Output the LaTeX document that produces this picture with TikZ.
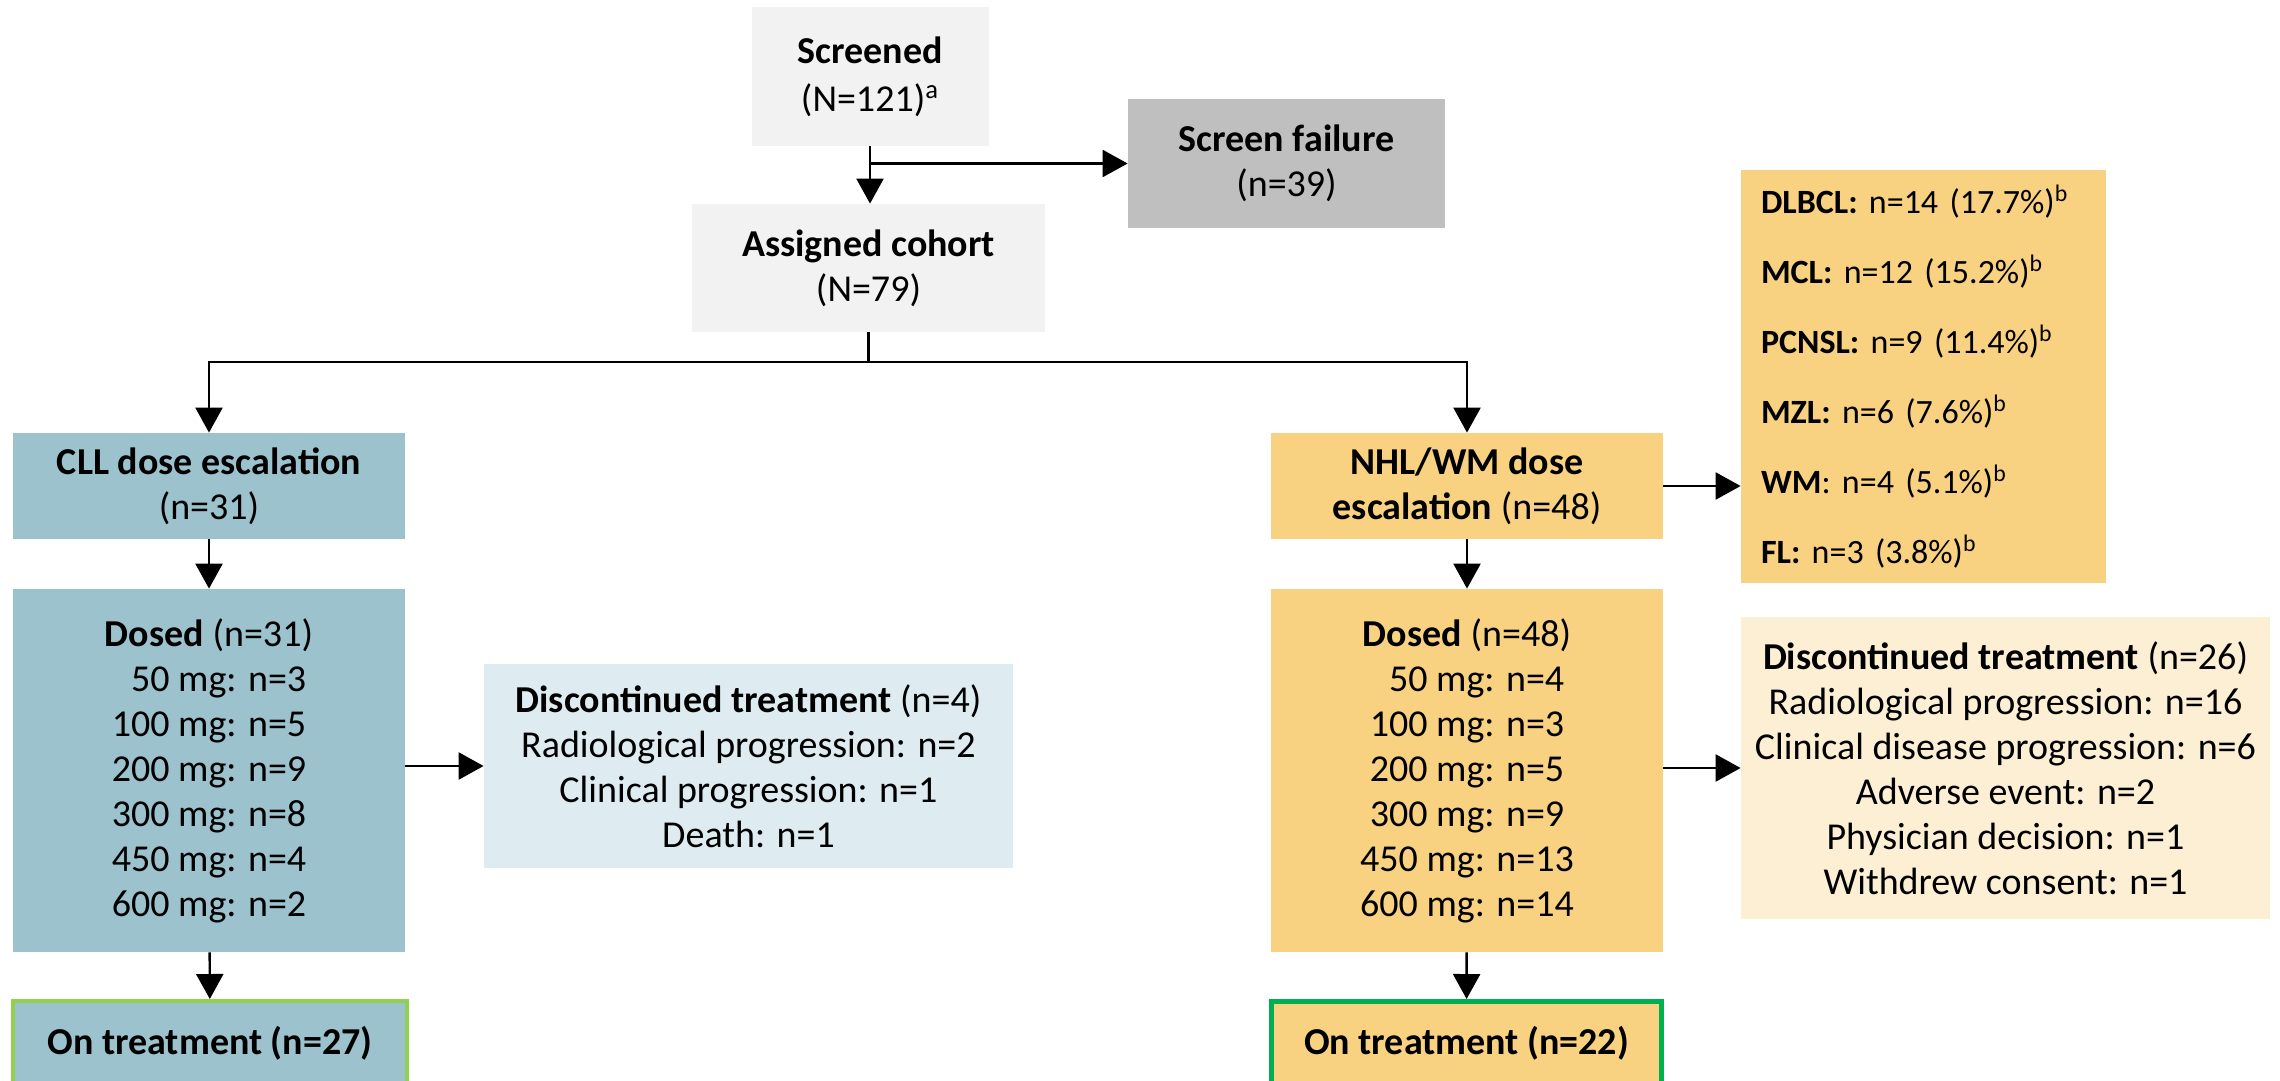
\documentclass[tikz,border=0pt]{standalone}
\usepackage{fontspec}
\setmainfont{Carlito}
\usetikzlibrary{arrows.meta}
\definecolor{cllblue}{HTML}{9BC2CD}
\definecolor{cllpale}{HTML}{DEEBF0}
\definecolor{nhlorange}{HTML}{F9D281}
\definecolor{nhlpale}{HTML}{FDEFD4}
\definecolor{scrgray}{HTML}{BFBFBF}
\definecolor{lightgray}{HTML}{F2F2F2}
\definecolor{greenA}{HTML}{92D050}
\definecolor{greenB}{HTML}{00B050}
\begin{document}
\begin{tikzpicture}[x=0.5pt,y=-0.5pt,
  box/.style={inner sep=0pt, align=center, text=black,
    font=\fontsize{19pt}{22.5pt}\selectfont},
  arr/.style={line width=1.2pt, -{Triangle[length=12.5pt,width=13.5pt]}},
  ln/.style={line width=1.2pt}]
\useasboundingbox (0,0) rectangle (2280,1081);
\clip (0,0) rectangle (2280,1081);
\fill[white] (0,0) rectangle (2280,1081);

% top
\node[box, fill=lightgray, minimum width=118.5pt, minimum height=69.5pt,
  font=\fontsize{19pt}{24pt}\selectfont] (screened) at (870,76.5)
  {\textbf{Screened}\\(N=121)\textsuperscript{a}};
\node[box, fill=scrgray, minimum width=158.5pt, minimum height=64.5pt] (fail) at (1286.5,163.5)
  {\textbf{Screen failure}\\(n=39)};
\node[box, fill=lightgray, minimum width=176.5pt, minimum height=64pt] (assigned) at (868.5,268)
  {\textbf{Assigned cohort}\\(N=79)};

% CLL column
\node[box, fill=cllblue, minimum width=196pt, minimum height=53pt] (cll) at (209,486)
  {\textbf{CLL dose escalation}\\(n=31)};
\node[box, fill=cllblue, minimum width=196pt, minimum height=181.5pt] (clldosed) at (209,770.5)
  {\textbf{Dosed} (n=31)\\\hphantom{0}50 mg: n=3\\100 mg: n=5\\200 mg: n=9\\300 mg: n=8\\450 mg: n=4\\600 mg: n=2};
\node[box, fill=cllpale, minimum width=264.5pt, minimum height=102pt] (clldisc) at (748.5,766)
  {\textbf{Discontinued treatment} (n=4)\\Radiological progression: n=2\\Clinical progression: n=1\\Death: n=1};
\node[box, fill=cllblue, draw=greenA, line width=2pt, minimum width=197pt, minimum height=42pt] (cllon) at (210,1043)
  {\textbf{On treatment (n=27)}};

% NHL column
\node[box, fill=nhlorange, minimum width=196pt, minimum height=53pt] (nhl) at (1467,486)
  {\textbf{NHL/WM dose}\\\textbf{escalation} (n=48)};
\node[box, fill=nhlorange, minimum width=182.5pt, minimum height=206.5pt,
  text width=162.5pt, align=left, font=\fontsize{17pt}{35pt}\selectfont] (sub) at (1923.5,376.5)
  {\mbox{\textbf{DLBCL:} n=14 (17.7\%)\textsuperscript{b}}\\
   \mbox{\textbf{MCL:} n=12 (15.2\%)\textsuperscript{b}}\\
   \mbox{\textbf{PCNSL:} n=9 (11.4\%)\textsuperscript{b}}\\
   \mbox{\textbf{MZL:} n=6 (7.6\%)\textsuperscript{b}}\\
   \mbox{\textbf{WM}: n=4 (5.1\%)\textsuperscript{b}}\\
   \mbox{\textbf{FL:} n=3 (3.8\%)\textsuperscript{b}}};
\node[box, fill=nhlorange, minimum width=196pt, minimum height=181.5pt] (nhldosed) at (1467,770.5)
  {\textbf{Dosed} (n=48)\\\hphantom{0}50 mg: n=4\\100 mg: n=3\\200 mg: n=5\\300 mg: n=9\\450 mg: n=13\\600 mg: n=14};
\node[box, fill=nhlpale, minimum width=264.5pt, minimum height=151pt] (nhldisc) at (2005.5,768)
  {\textbf{Discontinued treatment} (n=26)\\Radiological progression: n=16\\Clinical disease progression: n=6\\Adverse event: n=2\\Physician decision: n=1\\Withdrew consent: n=1};
\node[box, fill=nhlorange, draw=greenB, line width=2.5pt, minimum width=195pt, minimum height=41.5pt] (nhlon) at (1466.5,1043)
  {\textbf{On treatment (n=22)}};

% connectors
\coordinate (br) at (screened.south |- fail.west);
\draw[arr] (screened.south) -- (screened.south |- assigned.north);
\draw[arr] (br) -- (fail.west);
\coordinate (j) at (868.5,362);
\draw[ln] (assigned.south) -- (j);
\draw[arr] (j) -| (cll.north);
\draw[arr] (j) -| (nhl.north);
\draw[arr] (cll) -- (clldosed);
\draw[arr] (clldosed) -- (cllon);
\draw[arr] (clldosed.east |- clldisc.west) -- (clldisc.west);
\draw[arr] (nhl.east) -- (nhl.east -| sub.west);
\draw[arr] (nhl) -- (nhldosed);
\draw[arr] (nhldosed) -- (nhlon);
\draw[arr] (nhldosed.east |- nhldisc.west) -- (nhldisc.west);
\end{tikzpicture}
\end{document}
